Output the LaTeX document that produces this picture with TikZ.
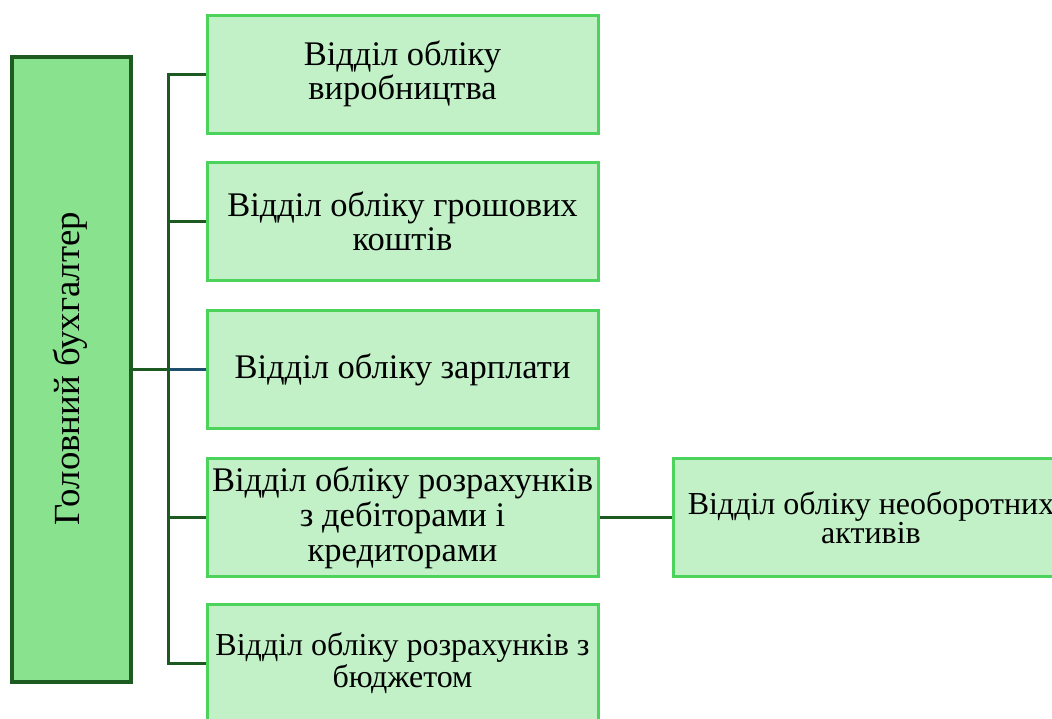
\documentclass[tikz,border=0pt]{standalone}
\usepackage{fontspec}
\setmainfont{Liberation Serif}
\definecolor{headfill}{HTML}{89E28E}
\definecolor{headdraw}{HTML}{1D5B21}
\definecolor{boxfill}{HTML}{C2F1C8}
\definecolor{boxdraw}{HTML}{4CD35B}
\definecolor{linkcol}{HTML}{1C5A22}
\definecolor{tealcol}{HTML}{1F4E6E}
\begin{document}
\begin{tikzpicture}[x=1pt,y=-1pt,
  headbox/.style={draw=headdraw,fill=headfill,line width=3.5pt,rectangle,inner sep=0pt,
    minimum width=119pt,minimum height=625pt},
  deptbox/.style={draw=boxdraw,fill=boxfill,line width=3pt,rectangle,inner sep=0pt,
    minimum width=391pt,minimum height=118pt,align=center,
    font=\fontsize{34.5}{34}\selectfont},
  link/.style={draw=linkcol,line width=3pt},
  teallink/.style={draw=tealcol,line width=3pt}]
\useasboundingbox (0,0) rectangle (1052,718);
\fill[white] (0,0) rectangle (1052,718);
\node[headbox] (L) at (71.5,369.5) {};
\node[rotate=90,font=\fontsize{36.8}{38}\selectfont] (Lt) at (70,368.5) {Головний бухгалтер};
\coordinate (bus) at (168,0);
\node[deptbox] (B1) at (402.5,74) {Відділ обліку\\виробництва};
\node[deptbox] (B2) at (402.5,221.5) {Відділ обліку грошових\\коштів};
\node[deptbox] (B3) at (402.5,369.5) {Відділ обліку зарплати};
\node[deptbox,font=\fontsize{34.5}{35}\selectfont] (B4) at (402.5,517.5) {Відділ обліку розрахунків\\з дебіторами і\\кредиторами};
\node[deptbox,font=\fontsize{32}{32}\selectfont] (B5) at (402.5,663.5) {Відділ обліку розрахунків з\\бюджетом};
\node[deptbox,minimum width=396pt,font=\fontsize{32}{28}\selectfont] (B6) at (871,517.5) {Відділ обліку необоротних\\активів};
\draw[link] (B1.west) -- (B1.west -| bus) -- (B5.west -| bus) -- (B5.west);
\draw[link] (B2.west -| bus) -- (B2.west);
\draw[link] (B4.west -| bus) -- (B4.west);
\draw[link] (L.east) -- (L.east -| bus);
\draw[teallink] (L.east -| bus) ++(1.5,0) -- (B3.west);
\draw[link] (B4.east) -- (B6.west);
\end{tikzpicture}
\end{document}
